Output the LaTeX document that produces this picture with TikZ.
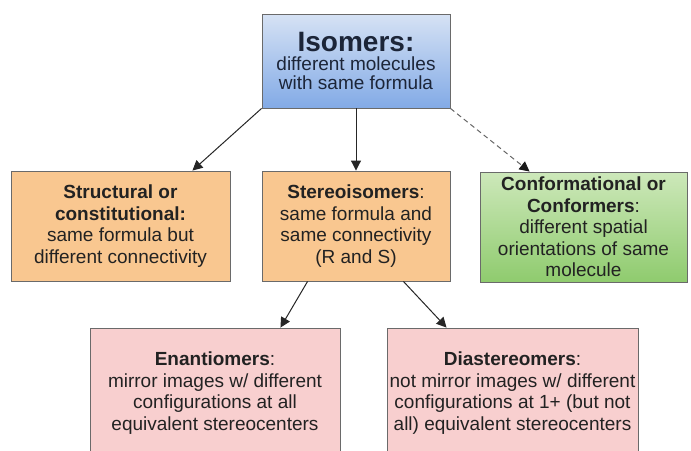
\documentclass[tikz,border=0pt]{standalone}
\usepackage{fontspec}
\setmainfont{Liberation Sans}
\usetikzlibrary{calc,arrows.meta}
\definecolor{isotop}{HTML}{D6E2F4}
\definecolor{isobot}{HTML}{82AAE6}
\definecolor{conftop}{HTML}{CDE8BA}
\definecolor{confbot}{HTML}{8FCB6E}
\definecolor{orangefill}{HTML}{F9C790}
\definecolor{pinkfill}{HTML}{F8CFCF}
\definecolor{boxline}{HTML}{6A6A6A}
\definecolor{txt}{HTML}{222222}
\definecolor{navytxt}{HTML}{1C2538}

\begin{document}
\begin{tikzpicture}[x=1pt, y=-1pt, >={Triangle[length=10pt,width=10pt]},
  box/.style={rectangle, draw=boxline, line width=0.9pt, align=center, inner sep=2pt, text=txt, font=\fontsize{19}{21.5}\selectfont},
  upper/.style={box, minimum height=110pt},
  lower/.style={box, fill=pinkfill, minimum height=130pt},
  link/.style={->, line width=1pt, draw=black!85}]
  \useasboundingbox (0,0) rectangle (691,450);
  \clip (0,0) rectangle (691,450);
  \node[box, top color=isotop, bottom color=isobot, minimum width=188pt, minimum height=94pt, text=navytxt, font=\fontsize{19}{19}\selectfont] (iso) at (356,61) {{\fontsize{28}{28}\selectfont\bfseries Isomers:}\\different molecules\\with same formula};
  \node[upper, fill=orangefill, minimum width=219pt] (struct) at (120.5,226) {\textbf{Structural or}\\\textbf{constitutional:}\\same formula but\\different connectivity};
  \node[upper, fill=orangefill, minimum width=188pt] (stereo) at (356,226) {\textbf{Stereoisomers}:\\same formula and\\same connectivity\\(R and S)};
  \node[upper, top color=conftop, bottom color=confbot, minimum width=207pt] (conf) at (583.5,227) {\textbf{Conformational or}\\\textbf{Conformers}:\\different spatial\\orientations of same\\molecule};
  \node[lower, minimum width=250pt] (enan) at (215,393) {\textbf{Enantiomers}:\\mirror images w/ different\\configurations at all\\equivalent stereocenters};
  \node[lower, minimum width=251pt] (dia) at (512.5,393) {\textbf{Diastereomers}:\\not mirror images w/ different\\configurations at 1+ (but not\\all) equivalent stereocenters};
  \draw[link] (iso.south west) -- ($(struct.north east)+(-38,0)$);
  \draw[link] (iso.south) -- (stereo.north);
  \draw[link, -{Triangle[length=10pt,width=10pt,color=black!90]}, draw=black!60, dash pattern=on 5pt off 3.5pt] (iso.south east) -- ($(conf.north west)+(50,0)$);
  \draw[link] ($(stereo.south west)+(46,0)$) -- ($(enan.north east)+(-60,0)$);
  \draw[link] ($(stereo.south east)+(-47,0)$) -- ($(dia.north west)+(60,0)$);
\end{tikzpicture}
\end{document}
